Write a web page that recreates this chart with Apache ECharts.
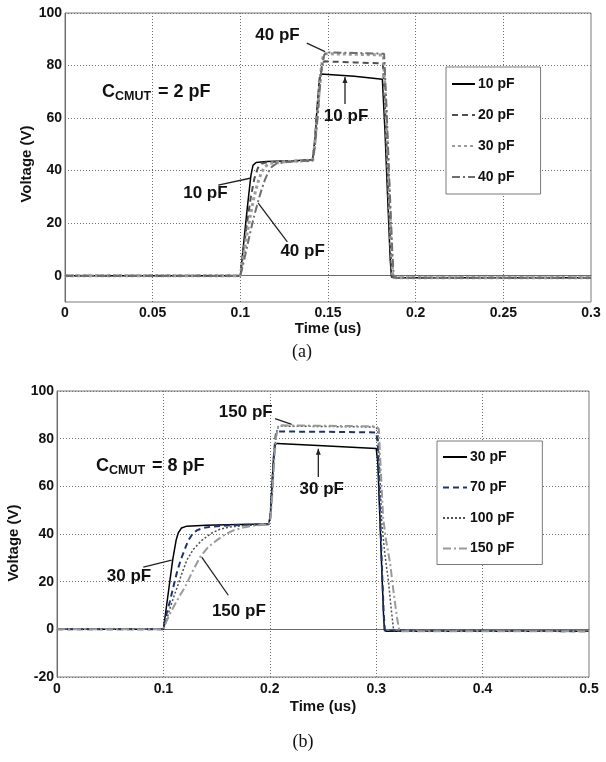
<!DOCTYPE html>
<html><head><meta charset="utf-8">
<script src="https://cdn.jsdelivr.net/npm/echarts@6.0.0/dist/echarts.min.js"></script>
<style>
html,body{margin:0;padding:0;background:#fff;width:606px;height:762px;overflow:hidden}
#ca{position:absolute;left:0;top:0;width:606px;height:370px}
#cb{position:absolute;left:0;top:370px;width:606px;height:392px}
</style>
</head><body><div id="ca"></div><div id="cb"></div>
<script>
// ---------- data ----------
const namesA = ['10 pF', '20 pF', '30 pF', '40 pF'];
const namesB = ['30 pF', '70 pF', '100 pF', '150 pF'];

// (a) C_CMUT = 2 pF  — [time (us), voltage (V)]
const a10 = [[0,0],[0.1,0],[0.102,13],[0.104,26],[0.106,38],[0.1072,42],[0.109,43.1],[0.115,43.5],[0.13,43.8],[0.1412,44.1],[0.1425,52],[0.144,66],[0.1452,75.5],[0.146,76.8],[0.147,77],[0.165,75.9],[0.181,74.8],[0.1825,55],[0.184,30],[0.1855,6],[0.1862,-0.5],[0.188,-0.8],[0.3,-0.8]];
const a20 = [[0,0],[0.1,0],[0.102,11],[0.104,21],[0.106,30],[0.108,37],[0.110,41],[0.112,42.6],[0.115,43.2],[0.13,43.7],[0.1412,44],[0.1425,51],[0.144,64],[0.1455,76],[0.1468,80.8],[0.148,81.6],[0.165,81.2],[0.1813,80.8],[0.1828,60],[0.1843,34],[0.1858,8],[0.1866,-0.5],[0.1885,-0.8],[0.3,-0.8]];
const a30 = [[0,0],[0.1,0],[0.102,8.5],[0.104,16.5],[0.106,24],[0.108,30.5],[0.110,35.5],[0.112,39.2],[0.114,41.5],[0.117,42.8],[0.125,43.4],[0.1412,43.9],[0.1425,50],[0.144,62],[0.1458,77],[0.1472,83.5],[0.1485,84.5],[0.165,84.3],[0.1816,84],[0.1831,62],[0.1846,36],[0.1862,9],[0.187,-0.5],[0.189,-0.8],[0.3,-0.8]];
const a40 = [[0,0],[0.1,0],[0.102,5.5],[0.104,11.5],[0.106,17.5],[0.108,23],[0.110,28],[0.112,32.5],[0.114,36.5],[0.116,39.5],[0.118,41.5],[0.121,42.8],[0.13,43.5],[0.1412,43.8],[0.1425,49],[0.144,60],[0.146,77],[0.1478,84],[0.149,85],[0.165,84.8],[0.182,84.5],[0.1835,62],[0.185,36],[0.1867,9],[0.1875,-0.5],[0.1895,-0.8],[0.3,-0.8]];

// (b) C_CMUT = 8 pF
const b30 = [[0,0],[0.1,0],[0.103,10],[0.106,20],[0.1087,29],[0.112,37.5],[0.114,40.5],[0.117,42.5],[0.122,43.3],[0.14,43.7],[0.17,44],[0.199,44.2],[0.2005,48],[0.202,60],[0.2035,72],[0.205,77.5],[0.207,78],[0.25,77],[0.3,75.9],[0.3015,70],[0.303,52],[0.305,28],[0.307,5],[0.3078,-0.5],[0.31,-0.8],[0.5,-0.8]];
const b70 = [[0,0],[0.1,0],[0.103,6.6],[0.106,11.5],[0.1093,17.7],[0.1125,23.5],[0.1162,29],[0.12,33.5],[0.1234,37.3],[0.127,39.8],[0.1313,41.5],[0.137,42.5],[0.144,43],[0.16,43.6],[0.18,43.9],[0.199,44.1],[0.2005,47],[0.202,58],[0.204,74],[0.2055,81.5],[0.207,83],[0.25,82.9],[0.3,82.6],[0.3015,78],[0.303,58],[0.305,31],[0.307,7],[0.3082,-0.5],[0.31,-0.8],[0.5,-0.8]];
const b100 = [[0,0],[0.1,0],[0.103,4],[0.106,8.5],[0.11,14],[0.113,17.7],[0.117,23],[0.122,29],[0.128,33.5],[0.136,37.3],[0.145,40.3],[0.153,42],[0.162,42.9],[0.175,43.5],[0.199,44],[0.2005,46.5],[0.202,56],[0.204,72],[0.206,82],[0.2078,85],[0.21,85.3],[0.25,85.1],[0.3,84.9],[0.3015,83],[0.3035,65],[0.3051,45.7],[0.308,32],[0.3114,20.6],[0.314,9],[0.3164,-0.5],[0.319,-0.8],[0.5,-0.8]];
const b150 = [[0,0],[0.1,0],[0.103,3.5],[0.1062,6.6],[0.11,9.8],[0.115,13.8],[0.1203,17.7],[0.127,24],[0.1344,30.3],[0.142,34.5],[0.15,37.3],[0.158,39.8],[0.1657,41.5],[0.175,42.7],[0.185,43.5],[0.199,44],[0.2005,46],[0.202,54],[0.204,70],[0.206,81],[0.208,85],[0.211,85.6],[0.25,85.4],[0.3,85.2],[0.3025,84],[0.3045,65],[0.3065,47],[0.309,38],[0.313,28],[0.3165,15],[0.3195,5],[0.3217,-0.5],[0.324,-0.8],[0.5,-0.8]];

const seriesA = [a10, a20, a30, a40];
const seriesB = [b30, b70, b100, b150];

// axis ranges / tick steps
const xAxisA = [0, 0.3, 0.05];
const yAxisA = [-10, 100, 10];   // labels every 20
const xAxisB = [0, 0.5, 0.1];
const yAxisB = [-20, 100, 20];

// annotations: text, text centre [t,V], leader line [[t,V],[t,V]]
const annA = [
  {text: '40 pF', at: [0.1212, 91.6], line: [[0.1379, 88.5], [0.1483, 85.3]]},
  {text: '10 pF', at: [0.1603, 60.8], line: [[0.1597, 65.4], [0.1597, 75.6]], arrow: true},
  {text: '10 pF', at: [0.0801, 31.4], line: [[0.0874, 34.5], [0.1055, 37.1]]},
  {text: '40 pF', at: [0.1355, 9.3], line: [[0.1268, 12.9], [0.1102, 27.6]]}
];
const annB = [
  {text: '150 pF', at: [0.1774, 91.2], line: [[0.2049, 88.4], [0.2206, 86.0]]},
  {text: '30 pF', at: [0.2488, 58.7], line: [[0.2456, 63.9], [0.2456, 75.8]], arrow: true},
  {text: '30 pF', at: [0.0677, 22.2], line: [[0.0811, 26.1], [0.1078, 29.0]]},
  {text: '150 pF', at: [0.1709, 7.6], line: [[0.161, 14.3], [0.136, 30.3]]}
];
const cmutA = {at: [0.0211, 70.1], rest: '= 2 pF'};
const cmutB = {at: [0.0367, 68.6], rest: '= 8 pF'};

// ---------- styles ----------
const FONT = '"Liberation Sans", Arial, Helvetica, sans-serif';
const stylesA = [
  {color: '#000000', width: 1.5, type: 'solid'},
  {color: '#505050', width: 2, type: [6, 4]},
  {color: '#9c9c9c', width: 3, type: [3, 3]},
  {color: '#6e6e6e', width: 2, type: [8, 3, 2, 3]}
];
const stylesB = [
  {color: '#000000', width: 1.5, type: 'solid'},
  {color: '#1c3570', width: 2, type: [6, 4]},
  {color: '#505050', width: 1.5, type: [2, 2]},
  {color: '#9a9a9a', width: 2, type: [8, 3, 2, 3]}
];

function makeOption(cfg) {
  const lbl = {color: '#111', fontWeight: 'bold', fontSize: 14, fontFamily: FONT};
  return {
    animation: false,
    grid: {left: cfg.grid[0], top: cfg.grid[1], width: cfg.grid[2], height: cfg.grid[3],
      show: true, borderColor: '#7a7a7a', borderWidth: 1, backgroundColor: 'transparent',
      containLabel: false, outerBoundsMode: 'none'},
    xAxis: {type: 'value', min: cfg.x[0], max: cfg.x[1], interval: cfg.x[2],
      axisLine: {show: true, lineStyle: {color: '#6a6a6a', width: 1}},
      axisTick: {show: false},
      axisLabel: Object.assign({margin: cfg.xMargin, showMinLabel: true, showMaxLabel: true}, lbl),
      splitLine: {show: true, showMinLine: false, showMaxLine: false,
        lineStyle: {color: '#6f6f6f', type: [1, 2], width: 1}}},
    yAxis: {type: 'value', min: cfg.y[0], max: cfg.y[1], interval: cfg.y[2],
      axisLine: {show: true, lineStyle: {color: '#6a6a6a', width: 1}},
      axisTick: {show: false},
      axisLabel: Object.assign({margin: 3, showMinLabel: true, showMaxLabel: true,
        formatter: v => (Math.round(v) % 20 === 0 ? String(Math.round(v)) : '')}, lbl),
      splitLine: {show: true, showMinLine: true, showMaxLine: true,
        lineStyle: {color: cfg.splitColors, type: [1, 2], width: 1}}},
    legend: {orient: 'vertical', left: cfg.legend[0], top: cfg.legend[1],
      itemWidth: cfg.legend[2], itemHeight: 14, itemGap: cfg.legend[3],
      padding: cfg.legend[4], backgroundColor: '#fff', borderColor: '#7a7a7a', borderWidth: 1,
      borderRadius: 0, selectedMode: false, data: cfg.names,
      itemStyle: {color: 'rgba(0,0,0,0)', borderWidth: 0, opacity: 0},
      lineStyle: {inactiveColor: '#ccc'},
      textStyle: {color: '#111', fontWeight: 'bold', fontSize: 14, fontFamily: FONT, padding: [0, 0, 0, -2]}},
    series: cfg.data.map((d, i) => ({
      name: cfg.names[i], type: 'line', data: d, symbol: 'none', showSymbol: false,
      smooth: false, silent: true, z: 3 + i,
      lineStyle: {color: cfg.styles[i].color, width: cfg.styles[i].width, type: cfg.styles[i].type},
      itemStyle: {color: cfg.styles[i].color}
    }))
  };
}

function txt(x, y, text, font, extra) {
  return Object.assign({type: 'text', x: x, y: y, z: 50, silent: true,
    style: {text: text, font: font, fill: '#111', align: 'center', verticalAlign: 'middle',
      textAlign: 'center', textVerticalAlign: 'middle'}}, extra || {});
}

function addGraphics(chart, ann, cmut, labels) {
  const P = p => chart.convertToPixel({gridIndex: 0}, p);
  const els = [];
  const AF = 'bold 17px ' + FONT;
  ann.forEach(a => {
    const c = P(a.at);
    els.push(txt(c[0], c[1], a.text, AF));
    const p1 = P(a.line[0]), p2 = P(a.line[1]);
    els.push({type: 'line', z: 50, silent: true,
      shape: {x1: p1[0], y1: p1[1], x2: p2[0], y2: p2[1]},
      style: {stroke: '#222', lineWidth: 1.3}});
    if (a.arrow) {
      els.push({type: 'polygon', z: 50, silent: true,
        shape: {points: [[p2[0], p2[1]], [p2[0] - 2.5, p2[1] + 6], [p2[0] + 2.5, p2[1] + 6]]},
        style: {fill: '#222'}});
    }
  });
  const c0 = P(cmut.at);
  const big = 'bold 18px ' + FONT, small = 'bold 12.5px ' + FONT;
  const mk = (x, y, t, f) => ({type: 'text', x: x, y: y, z: 50, silent: true,
    style: {text: t, font: f, fill: '#111', align: 'left', textAlign: 'left',
      verticalAlign: 'middle', textVerticalAlign: 'middle'}});
  els.push(mk(c0[0], c0[1], 'C', big));
  els.push(mk(c0[0] + 13, c0[1] + 4.5, 'CMUT', small));
  els.push(mk(c0[0] + 56, c0[1], cmut.rest, big));
  // axis titles and caption
  els.push(txt(labels.yName[0], labels.yName[1], 'Voltage (V)', 'bold 15px ' + FONT, {rotation: Math.PI / 2}));
  els.push(txt(labels.xName[0], labels.xName[1], 'Time (us)', 'bold 15px ' + FONT));
  els.push(txt(labels.cap[0], labels.cap[1], labels.capText, '18px "Liberation Serif", "Times New Roman", serif'));
  chart.setOption({graphic: {elements: els}});
}

const chartA = echarts.init(document.getElementById('ca'));
chartA.setOption(makeOption({
  grid: [65, 13, 526, 289], x: xAxisA, y: yAxisA, xMargin: 4,
  splitColors: ['rgba(0,0,0,0)', '#6f6f6f'],
  legend: [446, 67, 23, 17, [10, 26, 10, 5]],
  names: namesA, data: seriesA, styles: stylesA
}));
addGraphics(chartA, annA, cmutA, {yName: [27, 164], xName: [328, 329], cap: [302, 352], capText: '(a)'});

const chartB = echarts.init(document.getElementById('cb'));
chartB.setOption(makeOption({
  grid: [57, 21, 532, 286], x: xAxisB, y: yAxisB, xMargin: 5,
  splitColors: ['#6f6f6f'],
  legend: [437, 71, 24, 16.5, [9, 28, 9, 5]],
  names: namesB, data: seriesB, styles: stylesB
}));
addGraphics(chartB, annB, cmutB, {yName: [14, 173], xName: [323, 337], cap: [303, 372], capText: '(b)'});
</script>
</body></html>
